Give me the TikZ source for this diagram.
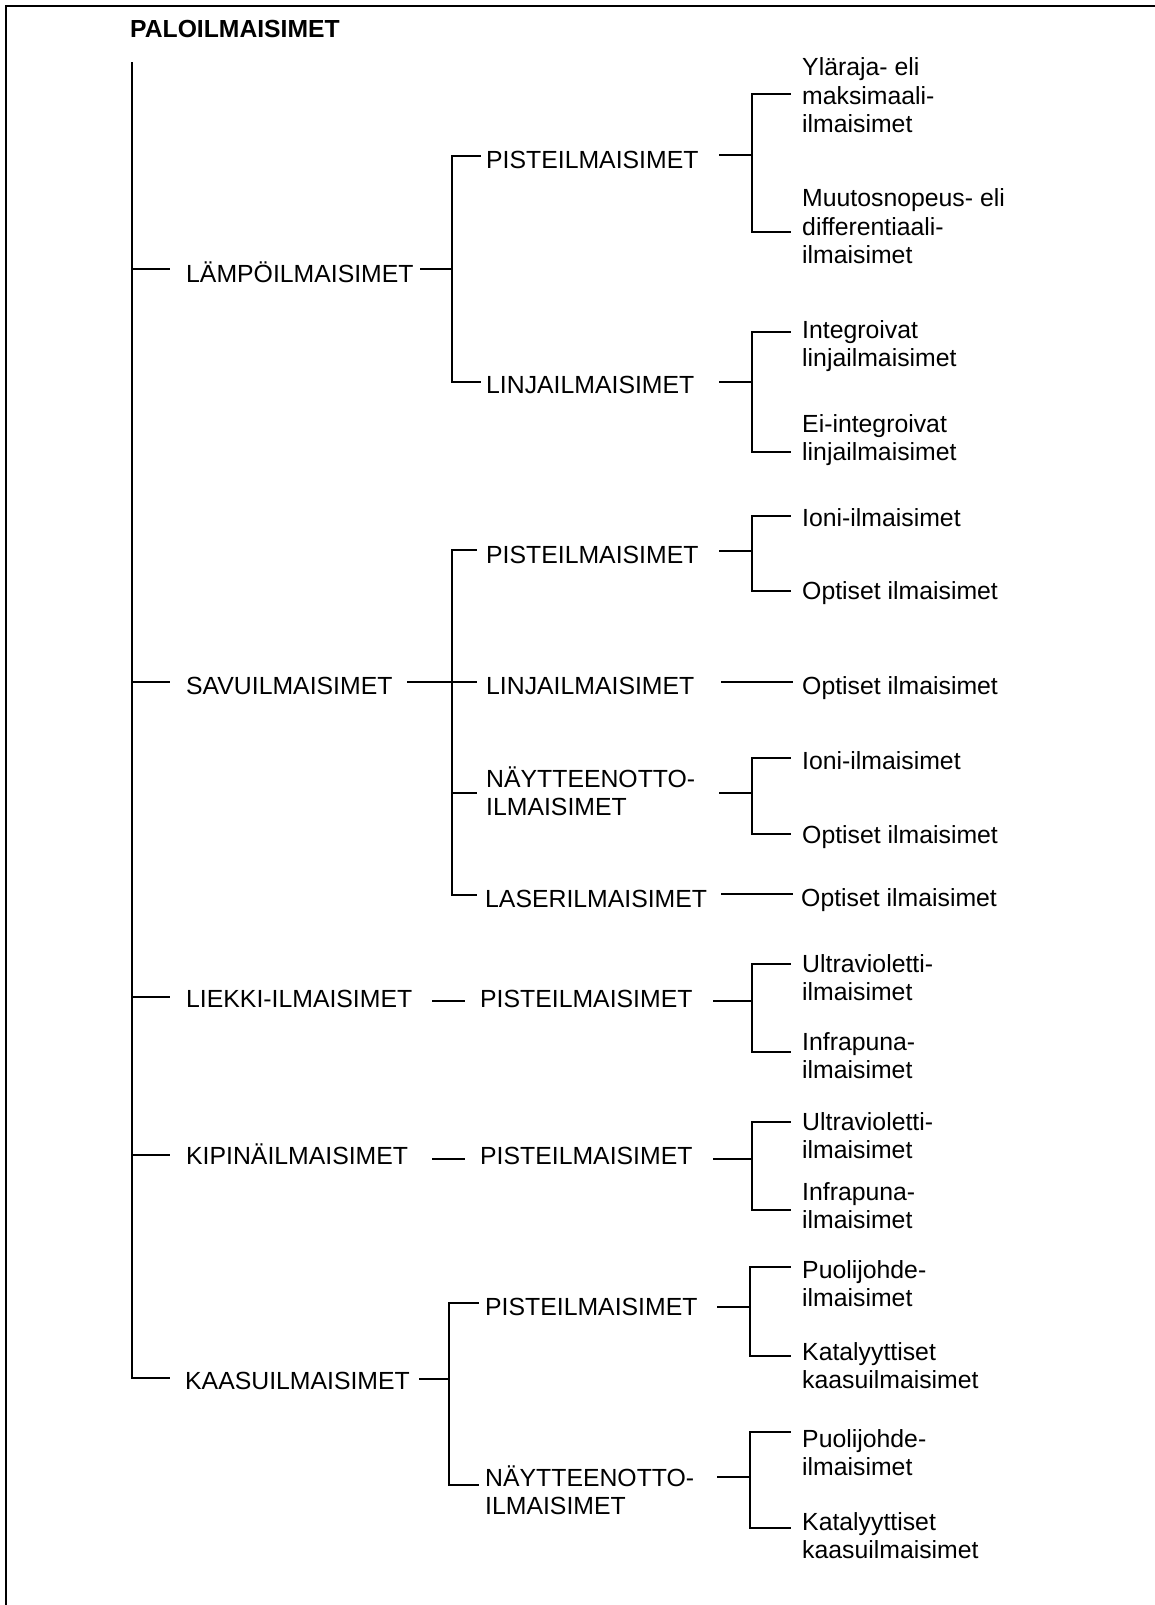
\documentclass[tikz,border=0pt]{standalone}
\usepackage{fontspec}
\setmainfont{Liberation Sans}
\newcommand\regfont{\fontsize{24.8}{28.5}\selectfont}
\newcommand\ttlfont{\bfseries\fontsize{24.7}{28.5}\selectfont}
\newcommand\twoln[2]{\vtop{\hbox{#1}\hbox{#2}}}
\newcommand\threeln[3]{\vtop{\hbox{#1}\hbox{#2}\hbox{#3}}}
% a straight tick between two named coordinates
\newcommand\tickline[4]{\coordinate (#1a) at (#2,#4); \coordinate (#1b) at (#3,#4); \draw[conn] (#1a) -- (#1b);}
% a bracket: name, spine x, end x, top y, bottom y
\newcommand\bracketline[5]{\coordinate (#1t) at (#3,#4); \coordinate (#1u) at (#2,#4);
  \coordinate (#1l) at (#2,#5); \coordinate (#1e) at (#3,#5);
  \draw[conn] (#1t) -- (#1u) -- (#1l) -- (#1e);}
\begin{document}
\begin{tikzpicture}[x=1pt,y=-1pt,
  conn/.style={line width=1.1pt, line cap=rect},
  lbl/.style={anchor=base west, inner sep=0pt, font=\regfont},
  ttl/.style={anchor=base west, inner sep=0pt, font=\ttlfont}]
\useasboundingbox (0,0) rectangle (1154,1605);
% frame (right and bottom edges lie outside the picture)
\coordinate (fa) at (6,1620); \coordinate (fb) at (6,6); \coordinate (fc) at (1170,6);
\draw[line width=2pt] (fa) -- (fb) -- (fc);

% ---- nodes
\node[ttl] (root) at (130,38) {PALOILMAISIMET};

\node[lbl] (n1) at (186,282) {LÄMPÖILMAISIMET};
\node[lbl] (n2) at (186,694) {SAVUILMAISIMET};
\node[lbl] (n3) at (186,1007) {LIEKKI-ILMAISIMET};
\node[lbl] (n4) at (186,1164) {KIPINÄILMAISIMET};
\node[lbl] (n5) at (185,1389) {KAASUILMAISIMET};

\node[lbl] (n11) at (486,169) {PISTEILMAISIMET};
\node[lbl] (n12) at (486,393) {LINJAILMAISIMET};
\node[lbl] (n21) at (486,563) {PISTEILMAISIMET};
\node[lbl] (n22) at (486,694) {LINJAILMAISIMET};
\node[lbl] (n23) at (486,787) {\twoln{NÄYTTEENOTTO-}{ILMAISIMET}};
\node[lbl] (n24) at (485,907) {LASERILMAISIMET};
\node[lbl] (n31) at (480,1007) {PISTEILMAISIMET};
\node[lbl] (n41) at (480,1164) {PISTEILMAISIMET};
\node[lbl] (n51) at (485,1315) {PISTEILMAISIMET};
\node[lbl] (n52) at (485,1486) {\twoln{NÄYTTEENOTTO-}{ILMAISIMET}};

\node[lbl] (n111) at (802,76) {\threeln{Yläraja- eli}{maksimaali-}{ilmaisimet}};
\node[lbl] (n112) at (802,207) {\threeln{Muutosnopeus- eli}{differentiaali-}{ilmaisimet}};
\node[lbl] (n121) at (802,338) {\twoln{Integroivat}{linjailmaisimet}};
\node[lbl] (n122) at (802,432) {\twoln{Ei-integroivat}{linjailmaisimet}};
\node[lbl] (n211) at (802,526) {Ioni-ilmaisimet};
\node[lbl] (n212) at (802,599) {Optiset ilmaisimet};
\node[lbl] (n221) at (802,694) {Optiset ilmaisimet};
\node[lbl] (n231) at (802,769) {Ioni-ilmaisimet};
\node[lbl] (n232) at (802,843) {Optiset ilmaisimet};
\node[lbl] (n241) at (801,906) {Optiset ilmaisimet};
\node[lbl] (n311) at (802,972) {\twoln{Ultravioletti-}{ilmaisimet}};
\node[lbl] (n312) at (802,1050) {\twoln{Infrapuna-}{ilmaisimet}};
\node[lbl] (n411) at (802,1130) {\twoln{Ultravioletti-}{ilmaisimet}};
\node[lbl] (n412) at (802,1200) {\twoln{Infrapuna-}{ilmaisimet}};
\node[lbl] (n511) at (802,1278) {\twoln{Puolijohde-}{ilmaisimet}};
\node[lbl] (n512) at (802,1360) {\twoln{Katalyyttiset}{kaasuilmaisimet}};
\node[lbl] (n521) at (802,1447) {\twoln{Puolijohde-}{ilmaisimet}};
\node[lbl] (n522) at (802,1530) {\twoln{Katalyyttiset}{kaasuilmaisimet}};

% ---- trunk from the root
\coordinate (trtop) at (132,63);
\coordinate (trbot) at (132,1378);
\coordinate (trend) at (169,1378);
\draw[conn] (trtop) -- (trbot) -- (trend);
\tickline{k1}{132}{169}{269}
\tickline{k2}{132}{169}{682}
\tickline{k3}{132}{169}{997}
\tickline{k4}{132}{169}{1155}

% ---- level 1 to level 2
\tickline{p1}{421}{452}{269}
\bracketline{b1}{452}{480}{156}{382}
\tickline{p2}{408}{476}{682}
\bracketline{b2}{452}{476}{550}{895}
\tickline{c23}{452}{476}{793}
\tickline{p3}{433}{464}{1001}
\tickline{p4}{433}{464}{1159}
\tickline{p5}{420}{449}{1379}
\bracketline{b5}{449}{478}{1303}{1485}

% ---- level 2 to leaves
\tickline{q11}{720}{752}{155}
\bracketline{d11}{752}{790}{94}{232}
\tickline{q12}{720}{752}{382}
\bracketline{d12}{752}{790}{332}{452}
\tickline{q21}{720}{752}{551}
\bracketline{d21}{752}{790}{516}{591}
\tickline{q22}{722}{792}{682}
\tickline{q23}{720}{752}{793}
\bracketline{d23}{752}{790}{758}{834}
\tickline{q24}{722}{792}{894}
\tickline{q31}{714}{752}{1001}
\bracketline{d31}{752}{790}{964}{1052}
\tickline{q41}{714}{752}{1159}
\bracketline{d41}{752}{790}{1122}{1210}
\tickline{q51}{718}{750}{1307}
\bracketline{d51}{750}{790}{1267}{1356}
\tickline{q52}{718}{750}{1477}
\bracketline{d52}{750}{790}{1432}{1528}
\end{tikzpicture}
\end{document}
